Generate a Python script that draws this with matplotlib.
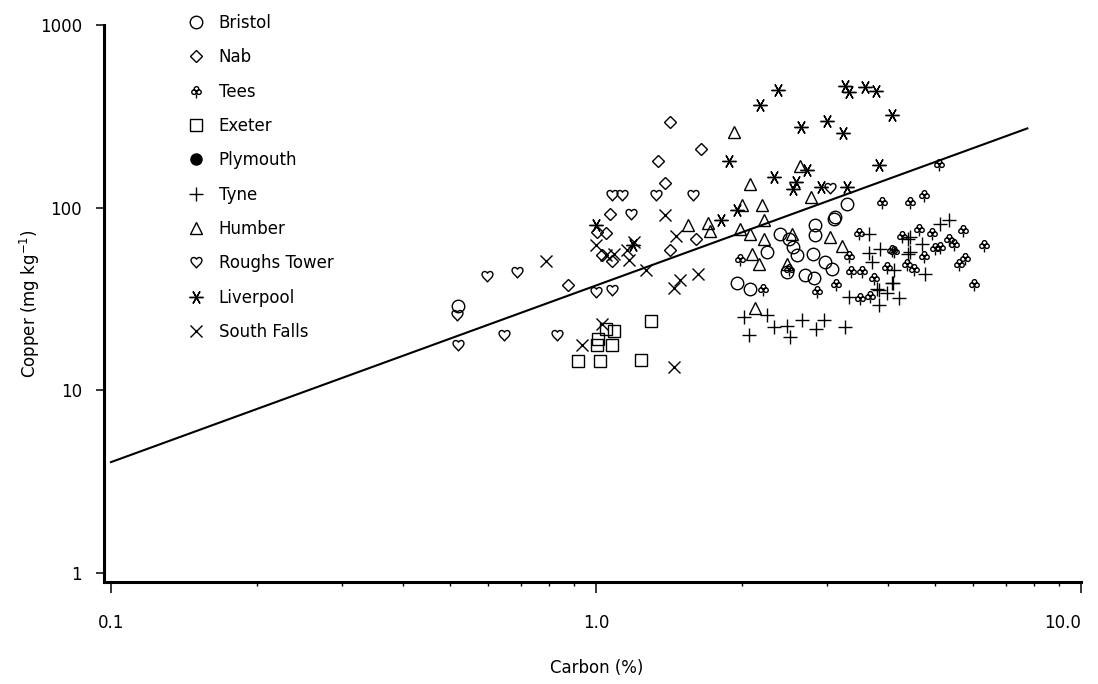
import numpy as np
import matplotlib
matplotlib.use("Agg")
import matplotlib.pyplot as plt
from matplotlib.path import Path
from matplotlib.ticker import FixedLocator, FixedFormatter, NullLocator

# carbon (%) and copper (mg/kg), one pair of lists per site
bristol_c = [0.52, 3.29, 3.11, 3.10, 2.83, 2.83, 2.40, 2.50, 2.55, 2.60, 2.80, 2.97,
             3.07, 2.70, 2.82, 1.95, 2.08, 2.48, 2.25]
bristol_cu = [29.1, 105, 89, 87, 80.7, 71, 72, 67.7, 61, 55, 56, 50.7,
              46.4, 43, 41, 38.5, 36, 44.7, 57.5]

nab_c = [1.42, 1.65, 1.34, 1.39, 1.07, 1.005, 1.05, 1.03, 1.08, 1.42, 1.61, 0.876]
nab_cu = [295, 210, 181, 137, 92.7, 74, 73, 55.3, 51.3, 58.9, 67.7, 37.9]

tees_c = [5.10, 3.88, 4.45, 4.75, 5.71, 4.64, 4.94, 4.28, 5.35, 5.48, 5.13, 5.01,
          6.31, 4.08, 4.75, 5.77, 5.61, 4.38, 3.99, 4.53, 6.02, 3.49, 4.12, 3.33,
          3.35, 3.54, 3.75, 1.98, 2.21, 2.86, 3.12, 3.51, 3.68, 2.50]
tees_cu = [173, 107, 107, 118, 75, 76, 72.3, 69.6, 67, 62.9, 60.6, 59.9,
           62.2, 58.4, 54.1, 52.8, 48.9, 48.9, 47.1, 45.9, 38.0, 72.3, 57.7, 54.1,
           44.8, 44.8, 41.0, 52.1, 35.7, 34.8, 38.0, 31.9, 32.7, 45.9]

exeter_c = [1.30, 1.09, 1.05, 1.01, 1.08, 1.005, 0.918, 1.02, 1.24]
exeter_cu = [24.1, 21.0, 21.8, 19.0, 17.8, 17.8, 14.4, 14.4, 14.6]

plymouth_c = []
plymouth_cu = []

tyne_c = [3.66, 3.66, 3.85, 3.71, 4.12, 4.10, 3.83, 4.22, 3.32, 3.83, 2.02, 2.25,
          2.07, 2.33, 2.48, 2.51, 2.66, 2.84, 2.95, 3.26, 3.98, 4.40, 4.44, 5.34,
          5.12, 4.40, 4.70, 4.44, 4.77, 4.08, 3.80]
tyne_cu = [72, 56.7, 59.7, 50.7, 45.3, 38.9, 35.6, 32.2, 32.6, 29.5, 25.3, 26.0,
           20.2, 22.1, 22.4, 19.7, 24.4, 21.8, 24.4, 22.1, 33.9, 56.1, 69.5, 86,
           81.8, 67.7, 63.6, 57.5, 43.6, 38.5, 36]

humber_c = [1.93, 2.63, 2.08, 2.78, 2.00, 2.20, 1.55, 1.70, 1.72, 1.98, 2.08, 2.22,
            2.22, 2.54, 3.04, 3.21, 2.10, 2.17, 2.48, 2.13]
humber_cu = [260, 170, 135, 115, 104, 104, 80.7, 82.8, 74.9, 76.7, 72, 86,
             67.7, 72, 69.5, 61.3, 56.1, 48.9, 48.9, 28.1]

roughs_c = [0.596, 0.687, 0.517, 0.519, 0.646, 0.831, 1.0, 1.08, 1.08, 1.13, 1.33,
            1.585, 1.18, 3.04]
roughs_cu = [42.5, 44.7, 26.0, 17.6, 20, 20.2, 34.4, 35.2, 118, 118, 118,
             118, 92.7, 128]

liverpool_c = [2.37, 2.18, 3.26, 3.32, 3.59, 3.78, 4.08, 2.65, 2.99, 3.23, 1.88, 2.33,
               2.58, 2.55, 2.72, 2.91, 3.29, 3.83, 1.95, 1.81, 1.0, 1.19]
liverpool_cu = [442, 366, 464, 431, 458, 436, 322, 277, 299, 257, 181, 148,
                139, 127, 161, 129, 129, 172, 97.5, 86, 80.7, 62.8]

south_c = [0.789, 1.0, 1.05, 1.16, 1.20, 1.17, 1.27, 1.39, 1.46, 1.49, 1.45, 1.62,
           1.03, 0.936, 1.45, 1.09]
south_cu = [51.3, 62.8, 55.3, 58.9, 65.2, 52, 45.8, 91.6, 70.3, 40.4, 36.1, 43.6,
            23.2, 17.6, 13.4, 56.1]

# fitted line log10(Cu) = a + b*log10(C)
fit_a = 1.574
fit_b = 0.967
fit_range = [0.1, 7.75]

x_ticks = [0.1, 1.0, 10.0]
x_tick_labels = ["0.1", "1.0", "10.0"]
y_ticks = [1, 10, 100, 1000]
y_tick_labels = ["1", "10", "100", "1000"]

# home made markers
def heart_marker():
    verts = [(0, -1), (-0.25, -0.6), (-1, -0.2), (-1, 0.4),
             (-1, 0.95), (-0.3, 1.15), (0, 0.6),
             (0.3, 1.15), (1, 0.95), (1, 0.4),
             (1, -0.2), (0.25, -0.6), (0, -1), (0, -1)]
    codes = [Path.MOVETO] + [Path.CURVE4] * 12 + [Path.CLOSEPOLY]
    return Path(verts, codes)

def club_marker():
    r = 0.32
    parts = [Path.circle((0, 0.38), r), Path.circle((-0.36, -0.1), r),
             Path.circle((0.36, -0.1), r),
             Path([(0, -0.42), (0, -1.0)], [Path.MOVETO, Path.LINETO])]
    return Path.make_compound_path(*parts)

plt.rcParams["font.family"] = ["DejaVu Sans"]
fig = plt.figure(figsize=(10.98, 6.84), dpi=100)
ax = fig.add_axes([104 / 1098, 1 - 582 / 684, 977 / 1098, 557 / 684])

kw = dict(ls="none", mfc="none", mec="black", mew=1.0)
ax.plot(bristol_c, bristol_cu, marker="o", ms=9, label="Bristol", **kw)
ax.plot(nab_c, nab_cu, marker="D", ms=6.5, label="Nab", **kw)
ax.plot(tees_c, tees_cu, marker=club_marker(), ms=10, label="Tees", **kw)
ax.plot(exeter_c, exeter_cu, marker="s", ms=8, label="Exeter", **kw)
ax.plot(plymouth_c, plymouth_cu, ls="none", marker="o", ms=8, color="black", label="Plymouth")
ax.plot(tyne_c, tyne_cu, marker="+", ms=10, label="Tyne", **kw)
ax.plot(humber_c, humber_cu, marker="^", ms=9, label="Humber", **kw)
ax.plot(roughs_c, roughs_cu, marker=heart_marker(), ms=9, label="Roughs Tower", **kw)
ax.plot(liverpool_c, liverpool_cu, marker=(6, 2, 90), ms=10, label="Liverpool", **kw)
ax.plot(south_c, south_cu, marker="x", ms=8, label="South Falls", **kw)

fx = np.array(fit_range)
ax.plot(fx, 10 ** (fit_a + fit_b * np.log10(fx)), color="black", lw=1.5)

ax.set_xscale("log")
ax.set_yscale("log")
ax.set_xlim(0.1 * 10 ** (-7 / 486), 10)
ax.set_ylim(10 ** (-9 / 182.7), 1000)

ax.xaxis.set_major_locator(FixedLocator(x_ticks))
ax.xaxis.set_major_formatter(FixedFormatter(x_tick_labels))
ax.yaxis.set_major_locator(FixedLocator(y_ticks))
ax.yaxis.set_major_formatter(FixedFormatter(y_tick_labels))
ax.yaxis.set_minor_locator(NullLocator())

for s in ["top", "right"]:
    ax.spines[s].set_visible(False)
for s in ["left", "bottom"]:
    ax.spines[s].set_linewidth(2.2)

ax.tick_params(axis="x", which="major", direction="out", length=8, width=1.1,
               pad=15, labelsize=12)
ax.tick_params(axis="x", which="minor", direction="out", length=3, width=1.0)
ax.tick_params(axis="y", which="major", direction="out", length=6, width=1.1,
               pad=10, labelsize=12)
# last x label sits a bit left of its tick, as in the original
ax.get_xticklabels()[-1].set_horizontalalignment("right")
ax.get_xticklabels()[-1].set_x(10.0)

ax.set_xlabel("Carbon (%)", fontsize=12)
ax.set_ylabel("Copper (mg kg$^{-1}$)", fontsize=12)
ax.xaxis.label.set_va("center")
ax.yaxis.label.set_va("center")
ax.xaxis.set_label_coords((597 - 104) / 977, (582 - 668) / 557)
ax.yaxis.set_label_coords((30 - 104) / 977, 0.5)

ax.legend(loc="upper left", bbox_to_anchor=(188 / 1098, 1 - 14 / 684),
          bbox_transform=fig.transFigure, frameon=False, fontsize=12,
          handlelength=1.0, handletextpad=0.85, labelspacing=0.98,
          borderpad=0, borderaxespad=0, numpoints=1)

fig.savefig("out.png", dpi=100)
